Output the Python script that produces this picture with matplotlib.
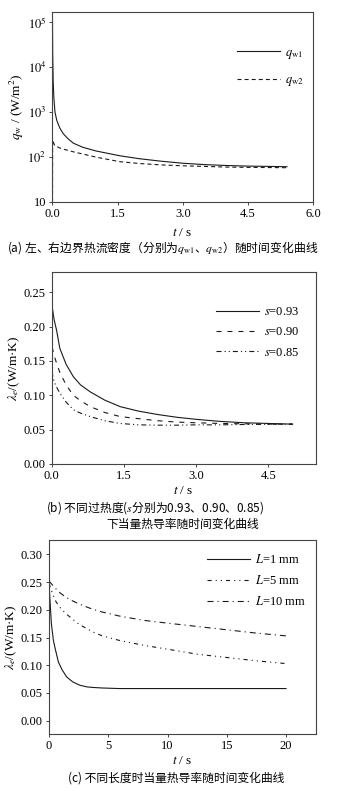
import matplotlib
matplotlib.use("Agg")
import matplotlib.pyplot as plt
import numpy as np

plt.rcParams['font.family'] = ['Liberation Serif', 'DejaVu Serif']
plt.rcParams['mathtext.fontset'] = 'stix'
plt.rcParams['font.size'] = 9
plt.rcParams['lines.scale_dashes'] = False

CJK = 'Noto Sans CJK SC'

# (a) boundary heat flux
t_a1 = [0, 0.005, 0.015, 0.03, 0.057, 0.1, 0.17, 0.25, 0.35, 0.48, 0.7, 1.0,
        1.55, 2.0, 2.5, 3.0, 3.5, 4.0, 4.5, 5.0, 5.4]
qw1 = [1.05e5, 2.0e4, 5.0e3, 2.2e3, 1.0e3, 650, 440, 330, 260, 204, 165, 137,
       107, 92, 81, 73, 68, 65, 63, 62, 61]
t_a2 = [0, 0.003, 0.05, 0.2, 0.48, 1.0, 1.55, 2.0, 2.5, 3.0, 3.5, 4.0, 4.5, 5.0, 5.4]
qw2 = [10, 240, 180, 155, 131, 100, 79, 72, 67, 64, 62, 60, 59, 58.5, 58]

# (b) equivalent conductivity for different superheat s
t_b = [0, 0.01, 0.05, 0.1, 0.17, 0.3, 0.45, 0.6, 0.8, 1.1, 1.42, 1.8, 2.2, 2.6,
       3.0, 3.5, 4.0, 4.5, 5.0]
lam_s093 = [0.058, 0.229, 0.21, 0.195, 0.168, 0.145, 0.127, 0.115, 0.105, 0.093,
            0.0835, 0.077, 0.072, 0.068, 0.065, 0.062, 0.060, 0.059, 0.058]
lam_s090 = [0.058, 0.170, 0.158, 0.147, 0.133, 0.115, 0.100, 0.092, 0.0835, 0.075,
            0.069, 0.066, 0.063, 0.061, 0.060, 0.059, 0.0585, 0.058, 0.058]
lam_s085 = [0.058, 0.132, 0.120, 0.112, 0.103, 0.090, 0.079, 0.074, 0.069, 0.063,
            0.059, 0.057, 0.0565, 0.0565, 0.057, 0.057, 0.0575, 0.0578, 0.058]

# (c) equivalent conductivity for different length L
t_c = [0, 0.05, 0.2, 0.37, 0.5, 0.79, 1.1, 1.49, 2.0, 2.6, 3.2, 3.7, 4.5, 5.9,
       8, 10, 12.5, 15, 17.5, 20]
lam_L1 = [0.26, 0.23, 0.175, 0.145, 0.132, 0.106, 0.092, 0.079, 0.070, 0.064,
          0.061, 0.060, 0.059, 0.058, 0.058, 0.058, 0.058, 0.058, 0.058, 0.058]
lam_L5 = [0.248, 0.245, 0.235, 0.226, 0.218, 0.208, 0.200, 0.192, 0.183, 0.173,
          0.166, 0.160, 0.153, 0.145, 0.136, 0.129, 0.120, 0.114, 0.108, 0.103]
lam_L10 = [0.252, 0.251, 0.247, 0.243, 0.240, 0.233, 0.228, 0.222, 0.216, 0.210,
           0.205, 0.201, 0.196, 0.189, 0.181, 0.176, 0.170, 0.164, 0.158, 0.153]

W, H = 338, 791
fig = plt.figure(figsize=(W / 100, H / 100), dpi=100)


def px_axes(l, t, r, b):
    return fig.add_axes([l / W, 1 - b / H, (r - l) / W, (b - t) / H])


def style(ax):
    for s in ax.spines.values():
        s.set_color('#444444')
        s.set_linewidth(0.8)
    ax.tick_params(direction='out', length=2.5, width=0.7, color='#444444',
                   labelsize=9, pad=2)


lc = '#1a1a1a'
lw = 0.8
cap_fs = 8.5

# ---- (a)
ax = px_axes(52.5, 12, 313, 202)
ax.plot(t_a1, qw1, color=lc, lw=lw, label='$q_{\\rm w1}$')
ax.plot(t_a2, qw2, color=lc, lw=lw, linestyle=(0, (2.9, 2.2)), label='$q_{\\rm w2}$')
ax.set_yscale('log')
ax.set_ylim(10, 1.7e5)
ax.set_xlim(0, 6)
ax.set_yticks([10, 1e2, 1e3, 1e4, 1e5])
ax.set_yticklabels(['10', '$10^2$', '$10^3$', '$10^4$', '$10^5$'])
ax.yaxis.set_minor_locator(matplotlib.ticker.NullLocator())
ax.set_xticks([0, 1.5, 3.0, 4.5, 6.0])
ax.set_xticklabels(['0.0', '1.5', '3.0', '4.5', '6.0'])
ax.set_xlabel('$t$ / s', labelpad=5, fontsize=9.5)
ax.set_ylabel('$q_{\\rm w}$ / (W/m$^2$)', labelpad=1, fontsize=9.5)
style(ax)
ax.legend(loc='upper left', bbox_to_anchor=(0.685, 0.85), frameon=False,
          borderpad=0, handlelength=3.4, handletextpad=0.4, labelspacing=1.1,
          fontsize=9)
fig.text(7 / W, 1 - 248 / H, '(a) 左、右边界热流密度（分别为$q_{\\rm w1}$、$q_{\\rm w2}$）随时间变化曲线',
         family=CJK, fontsize=cap_fs, va='center', ha='left')

# ---- (b)
ax = px_axes(51.7, 272.3, 315.7, 464)
ax.plot(t_b, lam_s093, color=lc, lw=lw, label='$s$=0.93')
ax.plot(t_b, lam_s090, color=lc, lw=lw, linestyle=(0, (3.6, 4.3)), label='$s$=0.90')
ax.plot(t_b, lam_s085, color=lc, lw=lw,
        linestyle=(0, (3.6, 2.2, 0.8, 2.2, 0.8, 2.2)), label='$s$=0.85')
ax.set_xlim(0, 5.48)
ax.set_ylim(0, 0.279)
ax.set_xticks([0, 1.5, 3.0, 4.5])
ax.set_xticklabels(['0.0', '1.5', '3.0', '4.5'])
ax.set_yticks([0, 0.05, 0.10, 0.15, 0.20, 0.25])
ax.set_yticklabels(['0.00', '0.05', '0.10', '0.15', '0.20', '0.25'])
ax.set_xlabel('$t$ / s', labelpad=2, fontsize=9.5)
ax.set_ylabel('$\\lambda_e$/(W/m·K)', labelpad=1, fontsize=9.5)
style(ax)
ax.legend(loc='upper left', bbox_to_anchor=(0.60, 0.855), frameon=False,
          borderpad=0, handlelength=3.4, handletextpad=0.4, labelspacing=0.65,
          fontsize=9)
fig.text(155 / W, 1 - 508 / H, '(b) 不同过热度($s$分别为0.93、0.90、0.85)',
         family=CJK, fontsize=cap_fs, va='center', ha='center')
fig.text(183 / W, 1 - 524 / H, '下当量热导率随时间变化曲线',
         family=CJK, fontsize=cap_fs, va='center', ha='center')

# ---- (c)
ax = px_axes(49, 540, 315.7, 734)
ax.plot(t_c, lam_L1, color=lc, lw=lw, label='$L$=1 mm')
ax.plot(t_c, lam_L5, color=lc, lw=lw,
        linestyle=(0, (3.0, 2.9, 0.8, 2.9, 0.8, 2.9)), label='$L$=5 mm')
ax.plot(t_c, lam_L10, color=lc, lw=lw,
        linestyle=(0, (4.3, 2.9, 0.8, 2.9)), label='$L$=10 mm')
ax.set_xlim(0, 22.5)
ax.set_ylim(-0.024, 0.326)
ax.set_xticks([0, 5, 10, 15, 20])
ax.set_yticks([0, 0.05, 0.10, 0.15, 0.20, 0.25, 0.30])
ax.set_yticklabels(['0.00', '0.05', '0.10', '0.15', '0.20', '0.25', '0.30'])
ax.set_xlabel('$t$ / s', labelpad=2, fontsize=9.5)
ax.set_ylabel('$\\lambda_e$/(W/m·K)', labelpad=1, fontsize=9.5)
style(ax)
ax.legend(loc='upper left', bbox_to_anchor=(0.57, 0.965), frameon=False,
          borderpad=0, handlelength=3.4, handletextpad=0.4, labelspacing=0.65,
          fontsize=9)
fig.text(176 / W, 1 - 778 / H, '(c) 不同长度时当量热导率随时间变化曲线',
         family=CJK, fontsize=cap_fs, va='center', ha='center')

fig.savefig('out.png', dpi=100)
